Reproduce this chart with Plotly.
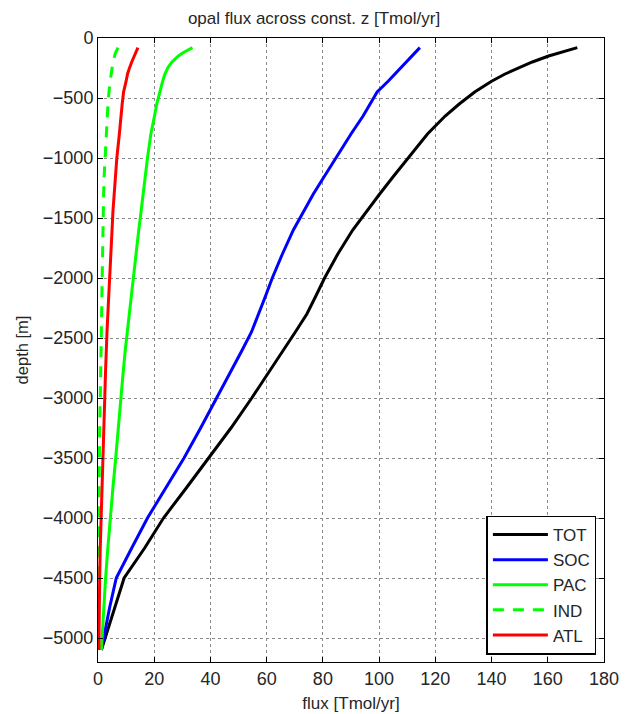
import plotly.graph_objects as go

depth = [-80, -100, -125, -150, -200, -250, -300, -360, -450, -550, -650, -800,
         -1000, -1150, -1300, -1450, -1600, -1800, -2000, -2150, -2300, -2450,
         -2600, -2800, -3000, -3250, -3500, -3750, -4000, -4250, -4500, -4750, -5100]

tot = [170.5, 167.3, 163.5, 160.3, 154.5, 149.5, 144.8, 140, 134, 128.5, 123.5, 117.2,
       110.2, 105.2, 100.2, 95.3, 90.6, 85.3, 80.6, 77.5, 74.3, 70.2,
       66.0, 60.4, 54.7, 47.3, 39.5, 31.4, 23.3, 16.6, 9.3, 5.9, 1.2]
soc = [114.5, 113.7, 112.6, 111.5, 109.6, 107.7, 105.6, 103.2, 99.3, 96.8, 94.3, 90,
       84.5, 80.6, 76.6, 72.9, 69.5, 65.6, 62.0, 59.6, 57.2, 54.6,
       51.3, 46.8, 42.3, 36.5, 30.6, 24.2, 17.6, 12.0, 6.5, 4.1, 1.2]
pac = [33.6, 31.8, 30.1, 28.6, 26.3, 24.8, 23.8, 23.0, 21.9, 20.9, 20.1, 18.8,
       17.6, 16.9, 16.1, 15.3, 14.5, 13.5, 12.5, 11.8, 11.1, 10.4,
       9.7, 8.9, 8.2, 7.2, 6.3, 5.3, 4.3, 3.5, 2.7, 2.1, 1.2]
ind = [7.1, 6.6, 6.2, 5.9, 5.4, 5.0, 4.7, 4.35, 3.9, 3.55, 3.3, 2.9,
       2.4, 2.2, 2.0, 1.85, 1.7, 1.55, 1.45, 1.38, 1.3, 1.25,
       1.15, 1.0, 0.8, 0.6, 0.45, 0.25, 0.1, 0.05, 0.03, 0.01, 0.0]
atl = [14.2, 13.8, 13.3, 12.9, 12.0, 11.2, 10.5, 10.0, 9.1, 8.6, 8.1, 7.6,
       6.7, 6.2, 5.6, 5.3, 5.0, 4.5, 4.0, 3.75, 3.5, 3.2,
       2.9, 2.65, 2.4, 2.05, 1.7, 1.35, 1.0, 0.8, 0.6, 0.45, 0.3]

series = [
    ("TOT", tot, "#000000", "solid"),
    ("SOC", soc, "#0000ff", "solid"),
    ("PAC", pac, "#00ff00", "solid"),
    ("IND", ind, "#00ff00", "11px,9px"),
    ("ATL", atl, "#ff0000", "solid"),
]

FONT = "Liberation Sans, Arial, sans-serif"
TXT = "#262626"

fig = go.Figure()
for name, vals, color, dash in series:
    fig.add_trace(go.Scatter(
        x=vals, y=depth, name=name, mode="lines",
        line=dict(color=color, width=3, dash=dash),
    ))

axis_common = dict(
    showline=True, linecolor="black", linewidth=1, mirror="ticks",
    ticks="inside", ticklen=5, tickcolor="black", tickwidth=1,
    showgrid=True, gridcolor="#8a8a8a", gridwidth=1, griddash="dot",
    zeroline=False, automargin=False,
    tickfont=dict(family=FONT, size=18, color=TXT),
)

fig.update_xaxes(range=[0, 180], dtick=20, tick0=0,
                 title=dict(text="flux [Tmol/yr]", font=dict(family=FONT, size=17, color=TXT), standoff=9),
                 **axis_common)
fig.update_yaxes(range=[-5200, 0], dtick=500, tick0=0,
                 title=dict(text="depth [m]", font=dict(family=FONT, size=16.5, color=TXT), standoff=10),
                 **axis_common)

fig.update_layout(
    width=628, height=714,
    margin=dict(l=98, r=24, t=38, b=52),
    paper_bgcolor="white", plot_bgcolor="white",
    title=dict(text="opal flux across const. z [Tmol/yr]", x=0.5, xanchor="center",
               y=1 - 18 / 714, yanchor="middle",
               font=dict(family=FONT, size=17, color=TXT)),
    legend=dict(x=0.985, xanchor="right", y=0.012, yanchor="bottom",
                bgcolor="white", bordercolor="black", borderwidth=1.5,
                font=dict(family=FONT, size=17, color=TXT),
                itemwidth=55, tracegroupgap=0),
    showlegend=True,
)

fig.write_html("out.html")
